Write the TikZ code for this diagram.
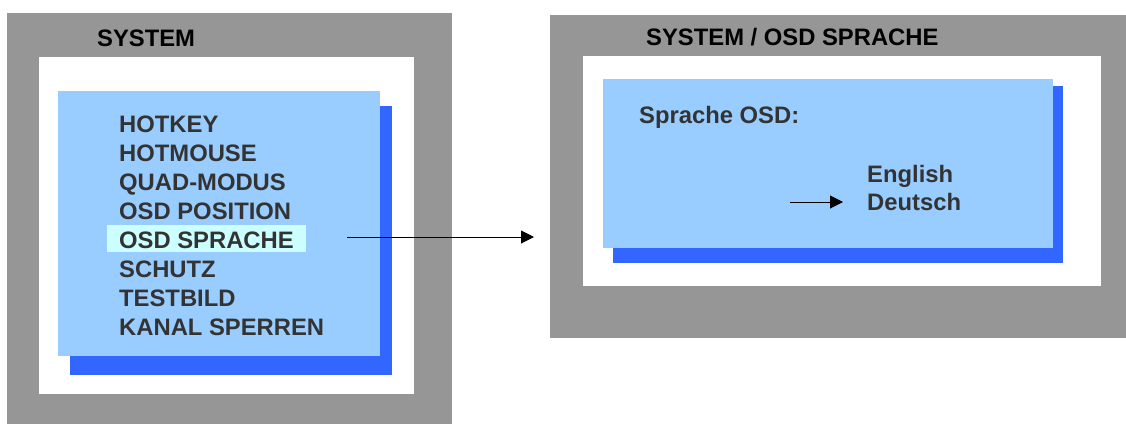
\documentclass[tikz,border=0pt]{standalone}
\usepackage{fontspec}
\setmainfont{Liberation Sans}
\usetikzlibrary{arrows.meta}
\definecolor{framegray}{HTML}{969696}
\definecolor{menublue}{HTML}{99CCFF}
\definecolor{shadeblue}{HTML}{3366FF}
\definecolor{pickcyan}{HTML}{CCFFFF}
\definecolor{textgray}{HTML}{333333}

\begin{document}
\begin{tikzpicture}[x=1pt,y=-1pt,
  headtxt/.style={anchor=base west, inner sep=0pt,
    font=\bfseries\fontsize{23.8}{28}\selectfont},
  menutxt/.style={headtxt, text=textgray},
  conn/.style={line width=1pt, -{Triangle[length=13pt,width=13pt]}}]
  \useasboundingbox (0,0) rectangle (1126,424);
  % left screen
  \fill[framegray] (7,13) rectangle (452,424);
  \fill[white] (39,57) rectangle (414,394);
  \fill[shadeblue] (70,106) rectangle (392,375);
  \fill[menublue] (58,91) rectangle (380,356);
  \fill[pickcyan] (107,225) rectangle (306,252);
  \node[headtxt] (sys) at (97,46) {SYSTEM};
  \foreach \txt [count=\i from 0] in {HOTKEY,HOTMOUSE,QUAD-MODUS,OSD POSITION,
      OSD SPRACHE,SCHUTZ,TESTBILD,KANAL SPERREN}
    \node[menutxt] (item\i) at (119,132+29*\i) {\txt};
  % right screen
  \fill[framegray] (550,15) rectangle (1126,338);
  \fill[white] (583,56) rectangle (1101,286);
  \fill[shadeblue] (613,86) rectangle (1063,263);
  \fill[menublue] (603,79) rectangle (1053,248);
  \node[headtxt] (sysosd) at (646,45) {SYSTEM / OSD SPRACHE};
  \node[menutxt] (lang) at (639,123) {Sprache OSD:};
  \node[menutxt] (english) at (867,182) {English};
  \node[menutxt] (deutsch) at (867,210) {Deutsch};
  \coordinate (ptr) at (790,202);
  \coordinate (ptrend) at (843,202);
  \draw[conn] (ptr) -- (ptrend);
  \coordinate (from) at (347,237);
  \coordinate (to) at (534,237);
  \draw[conn] (from) -- (to);
\end{tikzpicture}
\end{document}
